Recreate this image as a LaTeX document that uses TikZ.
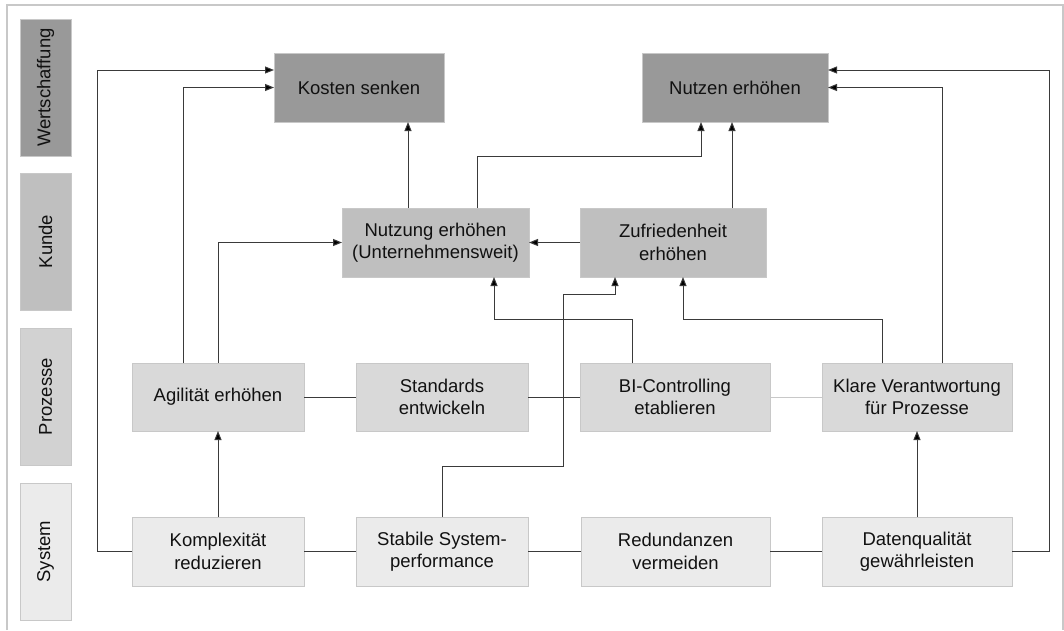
\documentclass[tikz,border=0pt]{standalone}
\usepackage{fontspec}
\setmainfont{Liberation Sans}
\usetikzlibrary{arrows.meta}
\definecolor{cW}{HTML}{999999}
\definecolor{cK}{HTML}{BFBFBF}
\definecolor{cP}{HTML}{D9D9D9}
\definecolor{cPL}{HTML}{D2D2D2}
\definecolor{cS}{HTML}{EBEBEB}
\definecolor{cBorder}{HTML}{C8C8C8}
\definecolor{cLine}{HTML}{3A3A3A}
\definecolor{cText}{HTML}{111111}
\begin{document}
\begin{tikzpicture}[x=1pt,y=-1pt,
  box/.style={draw=cBorder,line width=0.8pt,inner sep=0pt,outer sep=0pt,
    align=center,text=cText,font=\fontsize{18.5}{22.5}\selectfont},
  wbox/.style={box,fill=cW,minimum height=69pt},
  kbox/.style={box,fill=cK,minimum height=69pt},
  pbox/.style={box,fill=cP,minimum height=68pt},
  sbox/.style={box,fill=cS,minimum height=69pt},
  side/.style={box,rotate=90,minimum width=137pt,minimum height=51pt},
  arr/.style={draw=cLine,line width=1pt,-{Triangle[length=9pt,width=7pt,fill=black]}},
  con/.style={draw=cLine,line width=1pt},
  lcon/.style={draw=cBorder,line width=1pt}]
\useasboundingbox (0,0) rectangle (1064,630);
% frame
\draw[cBorder,line width=1.5pt] (7,630) -- (7,5) -- (1063,5) -- (1063,630);
% side labels
\node[side,fill=cW] (lw) at (45.5,87.5) {Wertschaffung};
\node[side,fill=cK] (lk) at (45.5,241.5) {Kunde};
\node[side,fill=cPL] (lp) at (45.5,396.5) {Prozesse};
\node[side,fill=cS] (ls) at (45.5,551.5) {System};
% Wertschaffung
\node[wbox,minimum width=170pt] (kosten) at (359,87.5) {Kosten senken};
\node[wbox,minimum width=186pt] (nutzen) at (735,87.5) {Nutzen erhöhen};
% Kunde
\node[kbox,minimum width=187pt] (nutzung) at (435.5,242.5) {Nutzung erhöhen\\(Unternehmensweit)};
\node[kbox,minimum width=186pt] (zufr) at (673,242.5) {Zufriedenheit\\erhöhen};
% Prozesse
\node[pbox,minimum width=172pt] (agil) at (218,397) {Agilität erhöhen};
\node[pbox,minimum width=172pt] (stand) at (442,397) {Standards\\entwickeln};
\node[pbox,minimum width=190pt] (bic) at (675,397) {BI-Controlling\\etablieren};
\node[pbox,minimum width=190pt] (klare) at (917,397) {Klare Verantwortung\\für Prozesse};
% System
\node[sbox,minimum width=172pt] (kompl) at (218,551.5) {Komplexität\\reduzieren};
\node[sbox,minimum width=172pt] (stab) at (442,551.5) {Stabile System-\\performance};
\node[sbox,minimum width=189pt] (redund) at (675.5,551.5) {Redundanzen\\vermeiden};
\node[sbox,minimum width=190pt] (daten) at (917,551.5) {Datenqualität\\gewährleisten};
% plain connectors
\draw[con] (agil.east) -- (stand.west);
\draw[con] (stand.east) -- (bic.west);
\draw[lcon] (bic.east) -- (klare.west);
\draw[con] (kompl.east) -- (stab.west);
\draw[con] (stab.east) -- (redund.west);
\draw[con] (redund.east) -- (daten.west);
% arrows
\draw[arr] (kompl.west) -| (97,70) -- ([yshift=17.5pt]kosten.west);
\draw[arr] ([xshift=-35pt]agil.north) |- (kosten.west);
\draw[arr] (agil.north) |- (nutzung.west);
\draw[arr] (kompl.north) -- (agil.south);
\draw[arr] ([xshift=-27.5pt]nutzung.north) -- ([xshift=49pt]kosten.south);
\draw[arr] ([xshift=41.5pt]nutzung.north) |- (701,156) -- ([xshift=-34pt]nutzen.south);
\draw[arr] ([xshift=59pt]zufr.north) -- ([xshift=-3pt]nutzen.south);
\draw[arr] (zufr.west) -- (nutzung.east);
\draw[arr] ([xshift=-43pt]bic.north) |- (494,319) -- ([xshift=58.5pt]nutzung.south);
\draw[arr] (stab.north) |- (563,466) |- (615,294) -- ([xshift=-58pt]zufr.south);
\draw[arr] ([xshift=-35pt]klare.north) |- (683,319) -- ([xshift=10pt]zufr.south);
\draw[arr] ([xshift=25pt]klare.north) |- (nutzen.east);
\draw[arr] (daten.east) -| (1049,70) -- ([yshift=17.5pt]nutzen.east);
\draw[arr] (daten.north) -- (klare.south);
\end{tikzpicture}
\end{document}
